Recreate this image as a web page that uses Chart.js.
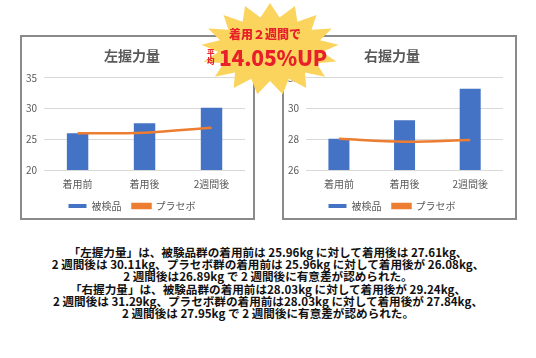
<!DOCTYPE html>
<html><head><meta charset="utf-8">
<script src="https://cdn.jsdelivr.net/npm/chart.js@4.4.1/dist/chart.umd.min.js"></script>
<style>
html,body{margin:0;padding:0;background:#fff;width:536px;height:358px;overflow:hidden;position:relative;font-family:"Noto Sans CJK JP","Noto Sans",sans-serif;}
.panel{position:absolute;top:35px;width:231px;height:181px;border:2px solid #8a8a8a;background:#fff;}
.panel canvas{position:absolute;left:0;top:0;}
#p1{left:20px;} #p2{left:282px;}
#burst{position:absolute;left:0;top:0;z-index:5;}
.bt{position:absolute;z-index:6;color:#e8202a;font-weight:900;white-space:nowrap;}
#note{position:absolute;left:0;width:536px;top:246px;text-align:center;font-weight:bold;font-size:11.6px;line-height:12.2px;color:#111;}
</style></head><body>
<div class="panel" id="p1"><canvas id="c1" width="231" height="181"></canvas></div>
<div class="panel" id="p2"><canvas id="c2" width="231" height="181"></canvas></div>
<svg id="burst" width="536" height="110"></svg>
<div class="bt" style="left:229px;top:27px;font-size:12px;line-height:14px;">着用２週間で</div>
<div class="bt" style="left:207px;top:49px;font-size:7.5px;line-height:8px;">平<br>均</div>
<div class="bt" style="left:219px;top:43px;font-size:21px;line-height:28px;letter-spacing:-0.2px;">14.05%UP</div>
<div id="note">「左握力量」は、被験品群の着用前は 25.96kg に対して着用後は 27.61kg、<br>2 週間後は 30.11kg、プラセボ群の着用前は 25.96kg に対して着用後が 26.08kg、<br>2 週間後は26.89kg で 2 週間後に有意差が認められた。<br>「右握力量」は、被験品群の着用前は28.03kg に対して着用後が 29.24kg、<br>2 週間後は 31.29kg、プラセボ群の着用前は28.03kg に対して着用後が 27.84kg、<br>2 週間後は 27.95kg で 2 週間後に有意差が認められた。</div>
<script>
const categories = ["着用前", "着用後", "2週間後"];
const seriesNames = ["被検品", "プラセボ"];
const leftTest = [25.96, 27.61, 30.11];
const leftPlacebo = [25.96, 26.08, 26.89];
const rightTest = [28.03, 29.24, 31.29];
const rightPlacebo = [28.03, 27.84, 27.95];
const leftTicks = [20, 25, 30, 35];
const rightTicks = [26, 28, 30, 32];

// starburst decoration
(function(){
  const svg = document.getElementById('burst');
  const cx = 270, cy = 49, n = 17;
  let pts = [];
  for (let i = 0; i < n * 2; i++) {
    const a = Math.PI * i / n - Math.PI / 2;
    const outer = i % 2 === 0;
    const rx = outer ? 69 : 52, ry = outer ? 46 : 32;
    pts.push((cx + rx * Math.cos(a)).toFixed(1) + ',' + (cy + ry * Math.sin(a)).toFixed(1));
  }
  svg.innerHTML = '<polygon points="' + pts.join(' ') + '" fill="#fbd45e"/>';
})();

const FONT = '"Noto Sans CJK JP", "Noto Sans", sans-serif';
function makeChart(id, title, bars, line, ticks, padRight) {
  new Chart(document.getElementById(id), {
    type: 'bar',
    data: {
      labels: categories,
      datasets: [
        { type: 'bar', label: seriesNames[0], data: bars, backgroundColor: '#4472c4', borderWidth: 0,
          categoryPercentage: 0.8, barPercentage: 0.4, order: 2 },
        { type: 'line', label: seriesNames[1], data: line, borderColor: '#ed7d31', backgroundColor: '#ed7d31',
          borderWidth: 2.5, pointRadius: 0, tension: 0.35, order: 1 }
      ]
    },
    options: {
      responsive: false, animation: false, devicePixelRatio: 1,
      layout: { padding: { left: -3, right: padRight, top: 0, bottom: -3 } },
      plugins: {
        title: { display: true, text: title, color: '#595959', font: { family: FONT, size: 14 }, padding: { top: 10, bottom: 14 } },
        legend: { position: 'bottom', labels: { boxWidth: 18, boxHeight: 4, color: '#595959', font: { family: FONT, size: 10 }, padding: 11,
          sort: (a, b) => a.datasetIndex - b.datasetIndex } },
        tooltip: { enabled: false }
      },
      scales: {
        x: { grid: { display: false }, border: { display: false },
             ticks: { color: '#595959', font: { family: FONT, size: 10 }, padding: 0 } },
        y: { min: ticks[0], max: ticks[ticks.length - 1],
             grid: { color: '#d9d9d9', drawTicks: false }, border: { display: false },
             ticks: { stepSize: ticks[1] - ticks[0], color: '#595959', font: { family: FONT, size: 10 }, padding: 7, autoSkip: false } }
      }
    }
  });
}
makeChart('c1', '左握力量', leftTest, leftPlacebo, leftTicks, 8);
makeChart('c2', '右握力量', rightTest, rightPlacebo, rightTicks, 12);
</script>
</body></html>
